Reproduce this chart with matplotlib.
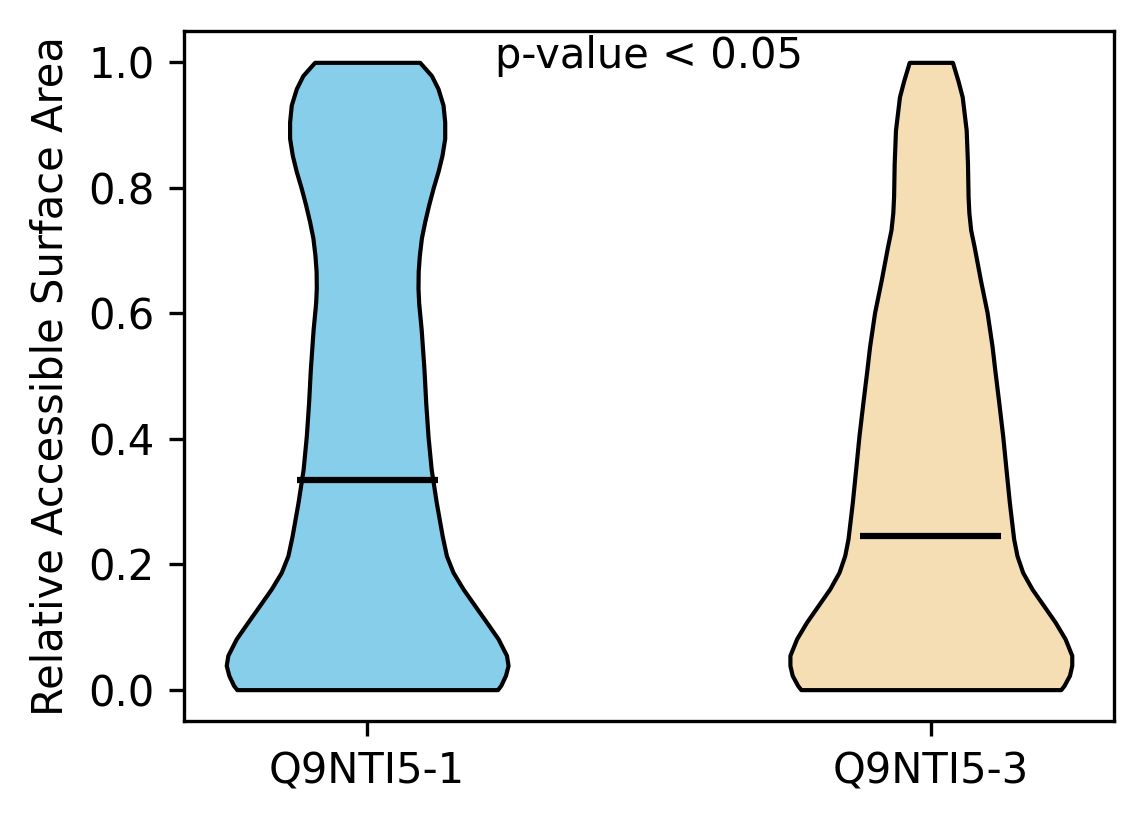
import numpy as np
import matplotlib
matplotlib.use("Agg")
import matplotlib.pyplot as plt

labels = ["Q9NTI5-1", "Q9NTI5-3"]
colors = ["skyblue", "wheat"]
means = [0.334, 0.245]

# density profile (relative half-widths)
y1 = [0.0, 0.0068, 0.0227, 0.0386, 0.0546, 0.081, 0.1076, 0.134, 0.1606,
      0.187, 0.2135, 0.245, 0.299, 0.351, 0.404, 0.458, 0.51, 0.574,
      0.616, 0.640, 0.667, 0.693, 0.720, 0.746, 0.773, 0.799, 0.826,
      0.852, 0.879, 0.905, 0.932, 0.958, 0.979, 1.0]
d1 = [130.2, 133.5, 138.2, 140.8, 139.2, 130.8, 119.2, 107.5, 95.8,
      85.8, 79.2, 75, 69, 64, 60.8, 58.5, 56.8, 54,
      51.5, 50.8, 51, 52.2, 54.2, 57.5, 61.5, 65.8, 70.8,
      74.8, 77.5, 77.5, 75.8, 70.8, 64.2, 52.5]

y3 = [0.0, 0.0068, 0.0227, 0.0386, 0.0546, 0.081, 0.1076, 0.134, 0.1606,
      0.187, 0.2135, 0.240, 0.272, 0.299, 0.351, 0.404, 0.458, 0.51,
      0.547, 0.601, 0.653, 0.706, 0.733, 0.760, 0.786, 0.839, 0.892,
      0.945, 0.971, 1.0]
d3 = [130.5, 133.8, 139.2, 141.5, 141.5, 134.8, 124.8, 113.2, 101.5,
      92.2, 86.5, 83.2, 80.8, 78.8, 75.5, 72.2, 68.2, 64.2,
      61.5, 56.5, 49.8, 43.5, 40, 38.2, 37.4, 36.8, 35.5,
      31.5, 27.2, 21.7]

stats = []
for yy, dd, m in zip([y1, y3], [d1, d3], means):
    stats.append({"coords": np.array(yy), "vals": np.array(dd, dtype=float),
                  "mean": m, "median": m, "min": min(yy), "max": max(yy),
                  "quantiles": []})

fig, ax = plt.subplots(figsize=(1144 / 300, 824 / 300), dpi=300)
fig.subplots_adjust(left=0.1608, right=0.9738, bottom=0.125, top=0.9624)

parts = ax.violin(stats, positions=[1, 2], widths=0.5,
                  showmeans=True, showextrema=False)
for body, c in zip(parts["bodies"], colors):
    body.set_facecolor(c)
    body.set_edgecolor("black")
    body.set_alpha(1)
parts["cmeans"].set_color("black")

ax.set_xticks([1, 2])
ax.set_xticklabels(labels)
ax.set_ylabel("Relative Accessible Surface Area")
ax.text(1.5, 1.01, "p-value < 0.05", ha="center", va="center")

fig.savefig("out.png", dpi=300)
